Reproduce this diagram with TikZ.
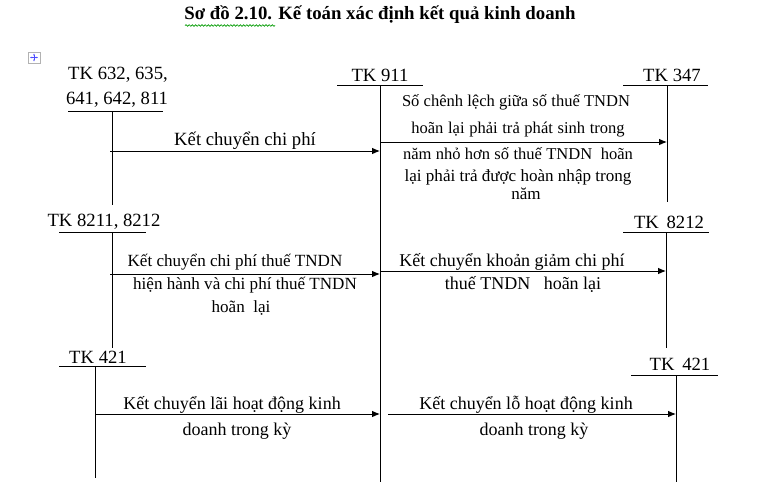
\documentclass[tikz,border=0pt]{standalone}
\usepackage{fontspec}
\setmainfont{Liberation Serif}
\usetikzlibrary{arrows.meta,decorations.pathmorphing}
\begin{document}
\begin{tikzpicture}[x=0.75pt,y=-0.75pt,
  acct/.style={line width=0.75pt},
  flow/.style={line width=0.75pt,-{Latex[length=6pt,width=5pt]}},
  lbl/.style={inner sep=0pt,font=\fontsize{14}{16}\selectfont},
  txt/.style={inner sep=0pt,font=\fontsize{13.5}{16}\selectfont},
  stxt/.style={inner sep=0pt,font=\fontsize{12.8}{15}\selectfont},
  btxt/.style={inner sep=0pt,font=\fontsize{12.4}{15}\selectfont}]
\useasboundingbox (0,0) rectangle (769,482);
% title
\node[inner sep=0pt,font=\bfseries\fontsize{14.1}{18}\selectfont] (title) at (380,15) {Sơ đồ 2.10. Kế toán xác định kết quả kinh doanh};
\draw[green!60!black,line width=0.5pt,decorate,decoration={snake,segment length=2.4pt,amplitude=0.6pt}] (185,25.5) -- (275,25.5);
% table handle icon
\draw[gray!60,line width=0.5pt] (28,52) rectangle (40,63);
\draw[blue!70,line width=0.5pt,{Stealth[length=1.5pt]}-{Stealth[length=1.5pt]}] (30,57.5) -- (38,57.5);
\draw[blue!70,line width=0.5pt,{Stealth[length=1.5pt]}-{Stealth[length=1.5pt]}] (34,53.5) -- (34,61.5);
% account labels
\node[lbl] (l632a) at (118,75) {TK 632, 635,};
\node[lbl] (l632b) at (117,100) {641, 642, 811};
\node[lbl] (l911) at (380,75) {TK 911};
\node[lbl] (l347) at (672,75) {TK 347};
\node[lbl] (l8211) at (104,222) {TK 8211, 8212};
\node[lbl] (l8212) at (669,222) {TK\, 8212};
\node[lbl] (l421a) at (98,357) {TK 421};
\node[lbl] (l421b) at (680,364) {TK\, 421};
% T-account coordinates
\coordinate (a1L) at (68,111);  \coordinate (a1R) at (163,111); \coordinate (a1T) at (112,111); \coordinate (a1B) at (112,205);
\coordinate (bL) at (337,85);   \coordinate (bR) at (423,85);   \coordinate (bT) at (380,85);   \coordinate (bB) at (380,482);
\coordinate (cL) at (623,85);   \coordinate (cR) at (708,85);   \coordinate (cT) at (667,85);   \coordinate (cB) at (667,202);
\coordinate (dL) at (59,232);   \coordinate (dR) at (146,232);  \coordinate (dT) at (112,232);  \coordinate (dB) at (112,348);
\coordinate (eL) at (623,232);  \coordinate (eR) at (709,232);  \coordinate (eT) at (666,232);  \coordinate (eB) at (666,348);
\coordinate (fL) at (59,366);   \coordinate (fR) at (146,366);  \coordinate (fT) at (95,366);   \coordinate (fB) at (95,478);
\coordinate (gL) at (631,375);  \coordinate (gR) at (718,375);  \coordinate (gT) at (676,375);  \coordinate (gB) at (676,482);
\foreach \k in {a1,b,c,d,e,f,g}{
  \draw[acct] (\k L) -- (\k R);
  \draw[acct] (\k T) -- (\k B);
}
% flow coordinates
\coordinate (s1) at (110,151); \coordinate (t1) at (380,151);
\coordinate (s2) at (380,142); \coordinate (t2) at (667,142);
\coordinate (s3) at (110,274); \coordinate (t3) at (380,274);
\coordinate (s4) at (380,271); \coordinate (t4) at (666,271);
\coordinate (s5) at (95,414);  \coordinate (t5) at (380,414);
\coordinate (s6) at (388,414); \coordinate (t6) at (676,414);
\foreach \k in {1,...,6}{ \draw[flow] (s\k) -- (t\k); }
% flow texts
\node[lbl] (f1) at (245,141) {Kết chuyển chi phí};
\node[btxt] (f2a) at (516,102) {\makebox[171pt][s]{Số chênh lệch giữa số thuế TNDN}};
\node[btxt] (f2b) at (518,130) {\makebox[160pt][s]{hoãn lại phải trả phát sinh trong}};
\node[btxt] (f2c) at (518,154) {\makebox[172.5pt][s]{năm nhỏ hơn số thuế TNDN \ hoãn}};
\node[stxt] (f2d) at (518,177) {lại phải trả được hoàn nhập trong};
\node[stxt] (f2e) at (526,194) {năm};
\node[stxt] (f3a) at (235,262) {Kết chuyển chi phí thuế TNDN};
\node[stxt] (f3b) at (245,285) {hiện hành và chi phí thuế TNDN};
\node[stxt] (f3c) at (241,308) {hoãn\ \ lại};
\node[txt] (f4a) at (512,262) {Kết\ chuyển\ khoản\ giảm\ chi\ phí};
\node[txt] (f4b) at (523,284) {thuế\ TNDN\ \ \ hoãn\ lại};
\node[txt] (f5a) at (232,405) {Kết\ chuyển\ lãi\ hoạt\ động\ kinh};
\node[txt] (f5b) at (237,431) {doanh trong kỳ};
\node[txt] (f6a) at (526,405) {Kết\ chuyển\ lỗ\ hoạt\ động\ kinh};
\node[txt] (f6b) at (534,431) {doanh trong kỳ};
\end{tikzpicture}
\end{document}
